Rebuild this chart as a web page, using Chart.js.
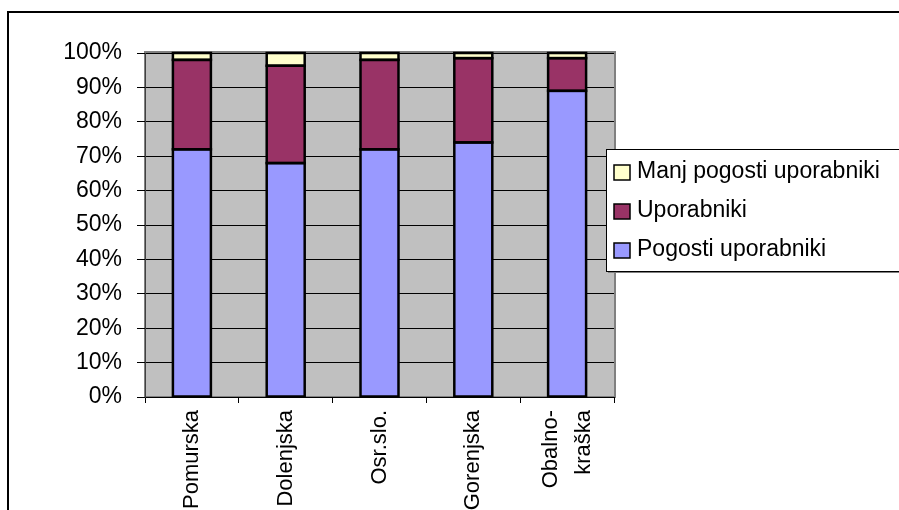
<!DOCTYPE html>
<html>
<head>
<meta charset="utf-8">
<script src="https://cdn.jsdelivr.net/npm/chart.js@4/dist/chart.umd.min.js"></script>
<style>
  html, body { margin: 0; padding: 0; background: #ffffff; }
  #wrap { width: 899px; height: 510px; position: relative; }
</style>
</head>
<body>
<div id="wrap"><canvas id="c" width="899" height="510"></canvas></div>
<script>
// Regions and the share of each user group (percent of respondents)
const regions = ['Pomurska', 'Dolenjska', 'Osr.slo.', 'Gorenjska', ['Obalno-', 'kraška']];
const frequentUsers = [72, 68, 72, 74, 89];
const users = [26, 28.3, 26, 24.5, 9.5];
const lessFrequentUsers = [2, 3.7, 2, 1.5, 1.5];
const seriesNames = ['Pogosti uporabniki', 'Uporabniki', 'Manj pogosti uporabniki'];
const yTicks = [0, 10, 20, 30, 40, 50, 60, 70, 80, 90, 100];

const FONT = "'Liberation Sans', Arial, sans-serif";
Chart.defaults.font.family = FONT;
Chart.defaults.color = '#000000';

// Grey plot background, plot frame and the outer chart frame
const framePlugin = {
  id: 'frames',
  beforeDraw(chart) {
    const { ctx, chartArea: a } = chart;
    ctx.save();
    ctx.fillStyle = '#ffffff';
    ctx.fillRect(0, 0, chart.width, chart.height);
    ctx.strokeStyle = '#000000';
    ctx.lineWidth = 2;
    ctx.strokeRect(8, 12, chart.width + 20, chart.height + 20);
    ctx.fillStyle = '#C0C0C0';
    ctx.fillRect(a.left, a.top, a.right - a.left, a.bottom - a.top);
    ctx.strokeStyle = '#808080';
    ctx.lineWidth = 2;
    ctx.strokeRect(a.left, a.top - 1, a.right - a.left + 1, a.bottom - a.top + 1);
    ctx.restore();
  }
};

// Centred black outline round every bar segment
const outlinePlugin = {
  id: 'segmentOutline',
  afterDatasetsDraw(chart) {
    const { ctx } = chart;
    ctx.save();
    ctx.strokeStyle = '#000000';
    ctx.lineWidth = 2.5;
    chart.data.datasets.forEach((ds, i) => {
      chart.getDatasetMeta(i).data.forEach(el => {
        const p = el.getProps(['x', 'y', 'base', 'width'], true);
        const top = Math.min(p.y, p.base);
        const h = Math.abs(p.base - p.y);
        ctx.strokeRect(p.x - p.width / 2, top, p.width, h);
      });
    });
    ctx.restore();
  }
};

// Vertical category labels, read bottom-to-top, ending just under the axis
const xLabelPlugin = {
  id: 'xLabels',
  afterDraw(chart) {
    const { ctx } = chart;
    const xs = chart.scales.x;
    const top = xs.top + 13;
    const lineGap = 33;
    ctx.save();
    ctx.font = '22px ' + FONT;
    ctx.fillStyle = '#000000';
    ctx.textAlign = 'right';
    ctx.textBaseline = 'middle';
    chart.data.labels.forEach((lab, i) => {
      const lines = Array.isArray(lab) ? lab : [lab];
      const cx = xs.getPixelForTick(i);
      lines.forEach((line, j) => {
        const dx = (j - (lines.length - 1) / 2) * lineGap;
        ctx.save();
        ctx.translate(cx + dx, top);
        ctx.rotate(-Math.PI / 2);
        ctx.fillText(line, 0, 0);
        ctx.restore();
      });
    });
    ctx.restore();
  }
};

// Boxed legend to the right, listed top series first
const boxLegendPlugin = {
  id: 'boxLegend',
  afterDraw(chart) {
    const { ctx } = chart;
    const x = 606, y = 149, w = 320, h = 122;
    ctx.save();
    ctx.fillStyle = '#808080';
    ctx.fillRect(x + 2, y + 2, w, h);
    ctx.fillStyle = '#ffffff';
    ctx.fillRect(x, y, w, h);
    ctx.strokeStyle = '#000000';
    ctx.lineWidth = 1;
    ctx.strokeRect(x + 0.5, y + 0.5, w, h);
    const items = chart.data.datasets.slice().reverse();
    const rows = [172, 211, 250];
    ctx.font = '23px ' + FONT;
    ctx.textBaseline = 'middle';
    ctx.textAlign = 'left';
    items.forEach((ds, i) => {
      const cy = rows[i];
      ctx.fillStyle = ds.backgroundColor;
      ctx.fillRect(614, cy - 7, 16, 15);
      ctx.strokeStyle = '#000000';
      ctx.lineWidth = 1.5;
      ctx.strokeRect(614, cy - 7, 16, 15);
      ctx.fillStyle = '#000000';
      ctx.fillText(ds.label, 637, cy);
    });
    ctx.restore();
  }
};

const barStyle = {
  borderWidth: 0,
  barPercentage: 0.405,
  categoryPercentage: 1.0
};

new Chart(document.getElementById('c'), {
  type: 'bar',
  data: {
    labels: regions,
    datasets: [
      Object.assign({ label: seriesNames[0], data: frequentUsers, backgroundColor: '#9999FF' }, barStyle),
      Object.assign({ label: seriesNames[1], data: users, backgroundColor: '#993366' }, barStyle),
      Object.assign({ label: seriesNames[2], data: lessFrequentUsers, backgroundColor: '#FFFFCC' }, barStyle)
    ]
  },
  options: {
    responsive: false,
    animation: false,
    devicePixelRatio: 1,
    layout: { padding: { left: 0, top: 53, right: 285, bottom: 0 } },
    plugins: {
      legend: { display: false },
      tooltip: { enabled: false }
    },
    scales: {
      x: {
        stacked: true,
        grid: { display: true, drawOnChartArea: false, drawTicks: true, tickLength: 6, color: '#000000', offset: true },
        border: { display: true, color: '#000000', width: 1 },
        ticks: { display: false },
        afterFit(scale) { scale.height = 113; }
      },
      y: {
        stacked: true,
        min: 0, max: 100,
        afterBuildTicks(scale) { scale.ticks = yTicks.map(v => ({ value: v })); },
        grid: { color: '#000000', lineWidth: 1, drawTicks: true, tickLength: 8 },
        border: { display: true, color: '#404040', width: 1 },
        ticks: {
          padding: 15,
          font: { size: 23 },
          color: '#000000',
          callback: v => v + '%'
        },
        afterFit(scale) { scale.width = 145; }
      }
    }
  },
  plugins: [framePlugin, outlinePlugin, xLabelPlugin, boxLegendPlugin]
});
</script>
</body>
</html>
